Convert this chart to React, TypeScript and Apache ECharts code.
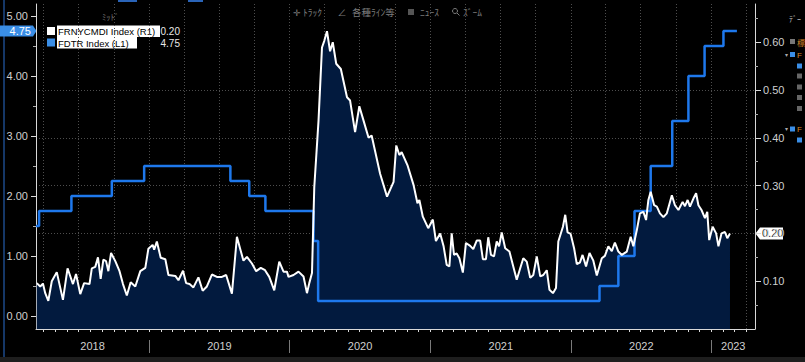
import React, { useEffect, useRef } from "react";
import * as echarts from "echarts";

// FRNYCMDI Index (right axis)
const fnyDates = [
  "2018-03-15","2018-03-24","2018-03-31","2018-04-06","2018-04-14","2018-04-23","2018-05-06","2018-05-22","2018-06-03","2018-06-17",
  "2018-06-25","2018-07-06","2018-07-16","2018-07-30","2018-08-05","2018-08-14","2018-08-21","2018-08-28","2018-09-04","2018-09-11",
  "2018-09-17","2018-09-24","2018-10-05","2018-10-16","2018-10-25","2018-11-04","2018-11-14","2018-11-26","2018-12-09","2018-12-22",
  "2018-12-30","2019-01-10","2019-01-14","2019-01-21","2019-01-31","2019-02-12","2019-02-20","2019-03-10","2019-03-18","2019-03-30",
  "2019-04-07","2019-04-16","2019-04-26","2019-05-09","2019-05-20","2019-05-31","2019-06-13","2019-06-26","2019-07-09","2019-07-20",
  "2019-08-04","2019-08-17","2019-08-25","2019-09-03","2019-09-12","2019-09-25","2019-10-06","2019-10-18","2019-10-29","2019-11-09",
  "2019-11-22","2019-12-05","2019-12-16","2019-12-25","2019-12-29","2020-01-11","2020-01-24","2020-02-06","2020-02-15","2020-02-21",
  "2020-02-28","2020-03-05","2020-03-16","2020-03-25","2020-03-31","2020-04-07","2020-04-15","2020-04-22","2020-05-01","2020-05-13",
  "2020-05-29","2020-06-06","2020-06-19","2020-06-30","2020-07-11","2020-07-24","2020-08-01","2020-08-23","2020-09-10","2020-09-27",
  "2020-10-04","2020-10-12","2020-10-18","2020-11-02","2020-11-18","2020-11-28","2020-12-03","2020-12-12","2020-12-26","2021-01-07",
  "2021-01-15","2021-01-26","2021-02-04","2021-02-12","2021-02-19","2021-02-25","2021-03-03","2021-03-10","2021-03-17","2021-03-26",
  "2021-04-03","2021-04-14","2021-04-22","2021-05-01","2021-05-10","2021-05-17","2021-05-25","2021-05-31","2021-06-07","2021-06-15",
  "2021-06-22","2021-06-28","2021-07-05","2021-07-14","2021-07-25","2021-08-04","2021-08-13","2021-08-22","2021-08-30","2021-09-08",
  "2021-09-17","2021-09-25","2021-10-04","2021-10-13","2021-10-21","2021-10-30","2021-11-06","2021-11-15","2021-11-23","2021-11-29",
  "2021-12-11","2021-12-17","2021-12-23","2021-12-31","2022-01-09","2022-01-16","2022-01-24","2022-01-31","2022-02-09","2022-02-18",
  "2022-02-28","2022-03-09","2022-03-22","2022-03-30","2022-04-08","2022-04-17","2022-04-25","2022-05-04","2022-05-13","2022-05-26",
  "2022-06-05","2022-06-12","2022-06-21","2022-06-29","2022-07-08","2022-07-15","2022-07-21","2022-07-27","2022-08-05","2022-08-12",
  "2022-08-20","2022-08-29","2022-09-07","2022-09-20","2022-09-28","2022-10-07","2022-10-18","2022-10-24","2022-10-31","2022-11-06",
  "2022-11-15","2022-11-22","2022-11-28","2022-12-06","2022-12-15","2022-12-21","2022-12-26","2023-01-04","2023-01-13","2023-01-19",
  "2023-01-27","2023-02-05","2023-02-11","2023-02-18"
];
const fnyValues = [
  0.096,0.089,0.095,0.075,0.059,0.100,0.119,0.061,0.127,0.094,
  0.115,0.073,0.096,0.094,0.127,0.130,0.150,0.105,0.145,0.142,
  0.121,0.159,0.142,0.121,0.094,0.070,0.098,0.089,0.121,0.128,
  0.168,0.176,0.166,0.183,0.149,0.146,0.113,0.111,0.102,0.122,
  0.096,0.094,0.087,0.108,0.080,0.089,0.114,0.109,0.109,0.113,
  0.074,0.193,0.169,0.143,0.151,0.137,0.121,0.128,0.123,0.109,
  0.081,0.141,0.120,0.120,0.109,0.113,0.120,0.110,0.075,0.096,
  0.117,0.297,0.436,0.589,0.603,0.623,0.581,0.600,0.555,0.544,
  0.485,0.478,0.412,0.466,0.436,0.400,0.405,0.325,0.277,0.308,
  0.384,0.364,0.370,0.343,0.301,0.263,0.270,0.235,0.211,0.229,
  0.184,0.200,0.173,0.134,0.131,0.200,0.155,0.158,0.148,0.118,
  0.180,0.174,0.167,0.185,0.185,0.146,0.146,0.192,0.155,0.152,
  0.183,0.173,0.202,0.169,0.162,0.131,0.103,0.127,0.148,0.141,
  0.107,0.113,0.152,0.110,0.113,0.123,0.082,0.075,0.086,0.183,
  0.214,0.239,0.202,0.199,0.169,0.136,0.139,0.155,0.131,0.159,
  0.143,0.112,0.148,0.153,0.173,0.163,0.181,0.162,0.155,0.162,
  0.193,0.173,0.207,0.242,0.245,0.228,0.270,0.287,0.259,0.256,
  0.242,0.234,0.242,0.280,0.259,0.249,0.266,0.257,0.270,0.256,
  0.273,0.284,0.259,0.249,0.232,0.245,0.186,0.214,0.200,0.173,
  0.200,0.203,0.190,0.200
];

// FDTR Index (left axis) – change dates and new levels
const fdtrDates = [
  "2018-03-13","2018-03-21","2018-06-13","2018-09-26","2018-12-19","2019-07-31","2019-09-18","2019-10-30",
  "2020-03-03","2020-03-15","2022-03-16","2022-05-04","2022-06-15","2022-07-27","2022-09-21","2022-11-02",
  "2022-12-14","2023-02-01","2023-03-08"
];
const fdtrValues = [1.5,1.75,2.0,2.25,2.5,2.25,2.0,1.75,1.25,0.25,0.5,1.0,1.75,2.5,3.25,4.0,4.5,4.75,4.75];

const xRange = ["2018-03-13", "2023-04-24"];
const yearLabels = ["2018", "2019", "2020", "2021", "2022", "2023"];
const leftTicks = [0, 1, 2, 3, 4, 5];
const leftMinorTicks = [0.5, 1.5, 2.5, 3.5, 4.5];
const rightTicks = [0.1, 0.2, 0.3, 0.4, 0.5, 0.6];
const rightMinorTicks = [0.05, 0.15, 0.25, 0.35, 0.45, 0.55, 0.65];

const FONT = '"Liberation Sans", Arial, sans-serif';
const JP = '"Noto Sans CJK JP", sans-serif';

const ts = (s: string) => Date.UTC(+s.slice(0, 4), +s.slice(5, 7) - 1, +s.slice(8, 10));

export default function App() {
  const ref = useRef<HTMLDivElement>(null);
  useEffect(() => {
    document.body.style.margin = "0";
    document.body.style.background = "#000";
    const chart = echarts.init(ref.current!, null, { renderer: "svg" });

    const xmin = ts(xRange[0]);
    const xmax = ts(xRange[1]);
    const monthTicks: number[] = [];
    const quarterTicks: number[] = [];
    const yearTicks: number[] = [];
    for (let y = 2018; y <= 2023; y++) {
      for (let m = 0; m < 12; m++) {
        const t = Date.UTC(y, m, 1);
        if (t <= xmin || t >= xmax) continue;
        monthTicks.push(t);
        if (m % 3 === 0) quarterTicks.push(t);
        if (m === 0) yearTicks.push(t);
      }
    }
    const yearMids = yearLabels.map((yl) => {
      const a = Math.max(xmin, Date.UTC(+yl, 0, 1));
      const b = Math.min(xmax, Date.UTC(+yl + 1, 0, 1));
      return (a + b) / 2;
    });

    const fnyData = fnyDates.map((d, i) => [ts(d), fnyValues[i]]);
    const fdtrData = fdtrDates.map((d, i) => [ts(d), fdtrValues[i]]);

    const gridTop = 4;
    const gridBottom = 33;
    const gridH = 362 - gridTop - gridBottom;
    const lMin = -0.217, lMax = 5.2;
    const rMin = 0, rMax = 0.68;
    const axisCol = "#d8d8d8";
    const labelCol = "#cfcfcf";
    const gridCol = "#4d4d4d";

    const baseX = { type: "value", min: xmin, max: xmax, gridIndex: 0 };
    const option: any = {
      animation: false,
      backgroundColor: "#000",
      grid: { left: 36, right: 50, top: gridTop, bottom: gridBottom, containLabel: false, outerBoundsMode: "none" },
      xAxis: [
        {
          ...baseX,
          position: "bottom",
          axisLine: { show: true, onZero: false, lineStyle: { color: axisCol, width: 1 } },
          axisTick: { show: true, customValues: monthTicks, length: 3, lineStyle: { color: axisCol } },
          axisLabel: {
            show: true,
            customValues: yearMids,
            formatter: (v: number) => yearLabels[new Date(v).getUTCFullYear() - 2018] ?? "",
            color: labelCol,
            fontSize: 11,
            fontFamily: FONT,
            margin: 11,
          },
          splitLine: { show: false },
        },
        {
          ...baseX,
          position: "bottom",
          axisLine: { show: false, onZero: false },
          axisTick: { show: true, inside: true, customValues: quarterTicks, length: gridH, lineStyle: { color: gridCol, type: [1, 2] } },
          axisLabel: { show: false },
          splitLine: { show: false },
        },
        {
          ...baseX,
          position: "bottom",
          offset: 11,
          axisLine: { show: false, onZero: false },
          axisTick: { show: true, customValues: yearTicks, length: 13, lineStyle: { color: "#7a7a7a" } },
          axisLabel: { show: false },
          splitLine: { show: false },
        },
      ],
      yAxis: [
        {
          type: "value",
          position: "left",
          min: lMin,
          max: lMax,
          axisLine: { show: true, onZero: false, lineStyle: { color: axisCol } },
          axisTick: { show: true, customValues: leftTicks, length: 5, lineStyle: { color: axisCol } },
          axisLabel: { customValues: leftTicks, formatter: (v: number) => v.toFixed(2), color: labelCol, fontSize: 11, fontFamily: FONT, margin: 8 },
          splitLine: { show: false },
        },
        {
          type: "value",
          position: "right",
          min: rMin,
          max: rMax,
          interval: 0.1,
          axisLine: { show: true, onZero: false, lineStyle: { color: axisCol } },
          axisTick: { show: true, customValues: rightTicks, length: 6, lineStyle: { color: axisCol } },
          axisLabel: { customValues: rightTicks, formatter: (v: number) => v.toFixed(2), color: labelCol, fontSize: 11, fontFamily: FONT, margin: 8 },
          splitLine: { show: true, showMinLine: false, showMaxLine: false, lineStyle: { color: gridCol, type: [1, 2] } },
        },
        {
          type: "value",
          position: "left",
          min: lMin,
          max: lMax,
          axisLine: { show: false, onZero: false },
          axisTick: { show: true, customValues: leftMinorTicks, length: 3, lineStyle: { color: "#aaaaaa" } },
          axisLabel: { show: false },
          splitLine: { show: false },
        },
        {
          type: "value",
          position: "right",
          min: rMin,
          max: rMax,
          axisLine: { show: false, onZero: false },
          axisTick: { show: true, customValues: rightMinorTicks, length: 3, lineStyle: { color: "#aaaaaa" } },
          axisLabel: { show: false },
          splitLine: { show: false },
        },
      ],
      series: [
        {
          type: "line",
          name: "FRNYCMDI area",
          xAxisIndex: 0,
          yAxisIndex: 1,
          data: fnyData,
          symbol: "none",
          lineStyle: { width: 0 },
          areaStyle: { color: "#021a3e", opacity: 1, origin: "start" },
          z: 1,
          silent: true,
        },
        {
          type: "line",
          name: "FDTR Index",
          xAxisIndex: 0,
          yAxisIndex: 0,
          data: fdtrData,
          step: "end",
          symbol: "none",
          lineStyle: { color: "#1e78ec", width: 2.5 },
          z: 2,
        },
        {
          type: "line",
          name: "FRNYCMDI Index",
          xAxisIndex: 0,
          yAxisIndex: 1,
          data: fnyData,
          symbol: "none",
          lineStyle: { color: "#ffffff", width: 2 },
          z: 3,
        },
      ],
    };
    chart.setOption(option);

    const lastF = fdtrValues[fdtrValues.length - 1];
    const lastN = fnyValues[fnyValues.length - 1];
    const yL = chart.convertToPixel({ yAxisIndex: 0 }, lastF) as number;
    const yR = chart.convertToPixel({ yAxisIndex: 1 }, lastN) as number;
    const txt = (x: number, y: number, text: string, fill: string, size: number, align = "left", family = FONT) => ({
      type: "text",
      x,
      y,
      silent: true,
      style: { text, fill, fontSize: size, fontFamily: family, align, verticalAlign: "middle" },
    });
    const rect = (x: number, y: number, w: number, h: number, fill: string) => ({
      type: "rect",
      silent: true,
      shape: { x, y, width: w, height: h },
      style: { fill },
    });
    const graphic: any[] = [
      // frame bits
      { type: "line", silent: true, shape: { x1: 4, y1: 0, x2: 4, y2: 357 }, style: { stroke: "#1d4a8a", lineWidth: 1.5 } },
      rect(0, 357, 805, 5, "#1e1e1e"),
      rect(118, 0, 19, 2, "#2a64b8"),
      rect(188, 0, 15, 2, "#2a64b8"),
      // toolbar
      txt(297, 12, "✛", "#7c7c7c", 9, "center", JP),
      txt(303, 12, "ﾄﾗｯｸ", "#7c7c7c", 9.5, "left", JP),
      txt(342, 12, "∠", "#7c7c7c", 9, "center", JP),
      txt(352, 12, "各種ﾗｲﾝ等", "#7c7c7c", 9.5, "left", JP),
      rect(408, 9, 6, 6, "#555555"),
      txt(420, 12, "ﾆｭｰｽ", "#7c7c7c", 9.5, "left", JP),
      { type: "circle", silent: true, shape: { cx: 455, cy: 11, r: 2.5 }, style: { fill: "none", stroke: "#7c7c7c", lineWidth: 1 } },
      { type: "line", silent: true, shape: { x1: 457, y1: 13, x2: 459.5, y2: 15.5 }, style: { stroke: "#7c7c7c", lineWidth: 1 } },
      txt(463, 12, "ｽﾞｰﾑ", "#7c7c7c", 9.5, "left", JP),
      txt(102, 16, "ﾐｯﾄﾞ", "#6e6e6e", 8.5, "left", JP),
      // legend
      rect(47, 27, 8, 8, "#ffffff"),
      rect(57, 25.5, 103, 11.5, "#ffffff"),
      txt(58, 31.5, "FRNYCMDI Index\u00a0(R1)", "#000000", 9.5),
      txt(180, 31.5, lastN.toFixed(2), "#e8e8e8", 10, "right"),
      rect(47, 38.5, 8, 8, "#3a8ee6"),
      rect(57, 37, 80, 11.5, "#ffffff"),
      txt(58, 43, "FDTR Index\u00a0(L1)", "#000000", 9.5),
      txt(180, 43, lastF.toFixed(2), "#e8e8e8", 10, "right"),
      // last value tags
      { type: "polygon", silent: true, shape: { points: [[0, yL - 5.5], [33, yL - 5.5], [36.5, yL], [33, yL + 5.5], [0, yL + 5.5]] }, style: { fill: "#3a8ee6" } },
      txt(31, yL, lastF.toFixed(2), "#ffffff", 11, "right"),
      { type: "polygon", silent: true, shape: { points: [[755.5, yR], [760, yR - 6], [783, yR - 6], [783, yR + 6], [760, yR + 6]] }, style: { fill: "#ffffff" } },
      txt(762, yR, lastN.toFixed(2), "#222222", 11),
      // right side panel fragments
      txt(789, 18, "ﾃﾞｰ", "#bbbbbb", 8, "left", JP),
      rect(790, 39, 5, 5, "#777777"),
      txt(797, 42, "標", "#d98a2a", 8, "left", JP),
      txt(786, 55, "▾", "#aaaaaa", 6, "center"),
      rect(790, 52, 5, 5, "#3a8ee6"),
      txt(797, 55, "F", "#d98a2a", 8),
      rect(797, 63.5, 5, 5, "#3a8ee6"),
      rect(797, 73.5, 5, 5, "#666666"),
      rect(797, 84.5, 5, 5, "#666666"),
      rect(797, 95, 5, 5, "#666666"),
      rect(797, 106, 5, 5, "#666666"),
      txt(786, 129, "▾", "#aaaaaa", 6, "center"),
      rect(790, 126.5, 5, 5, "#3a8ee6"),
      txt(797, 129.5, "F", "#d98a2a", 8),
      rect(797, 137.5, 5, 5, "#3a8ee6"),
    ];
    chart.setOption({ graphic });

    return () => chart.dispose();
  }, []);
  return <div ref={ref} style={{ position: "fixed", left: 0, top: 0, width: 805, height: 362 }} />;
}
